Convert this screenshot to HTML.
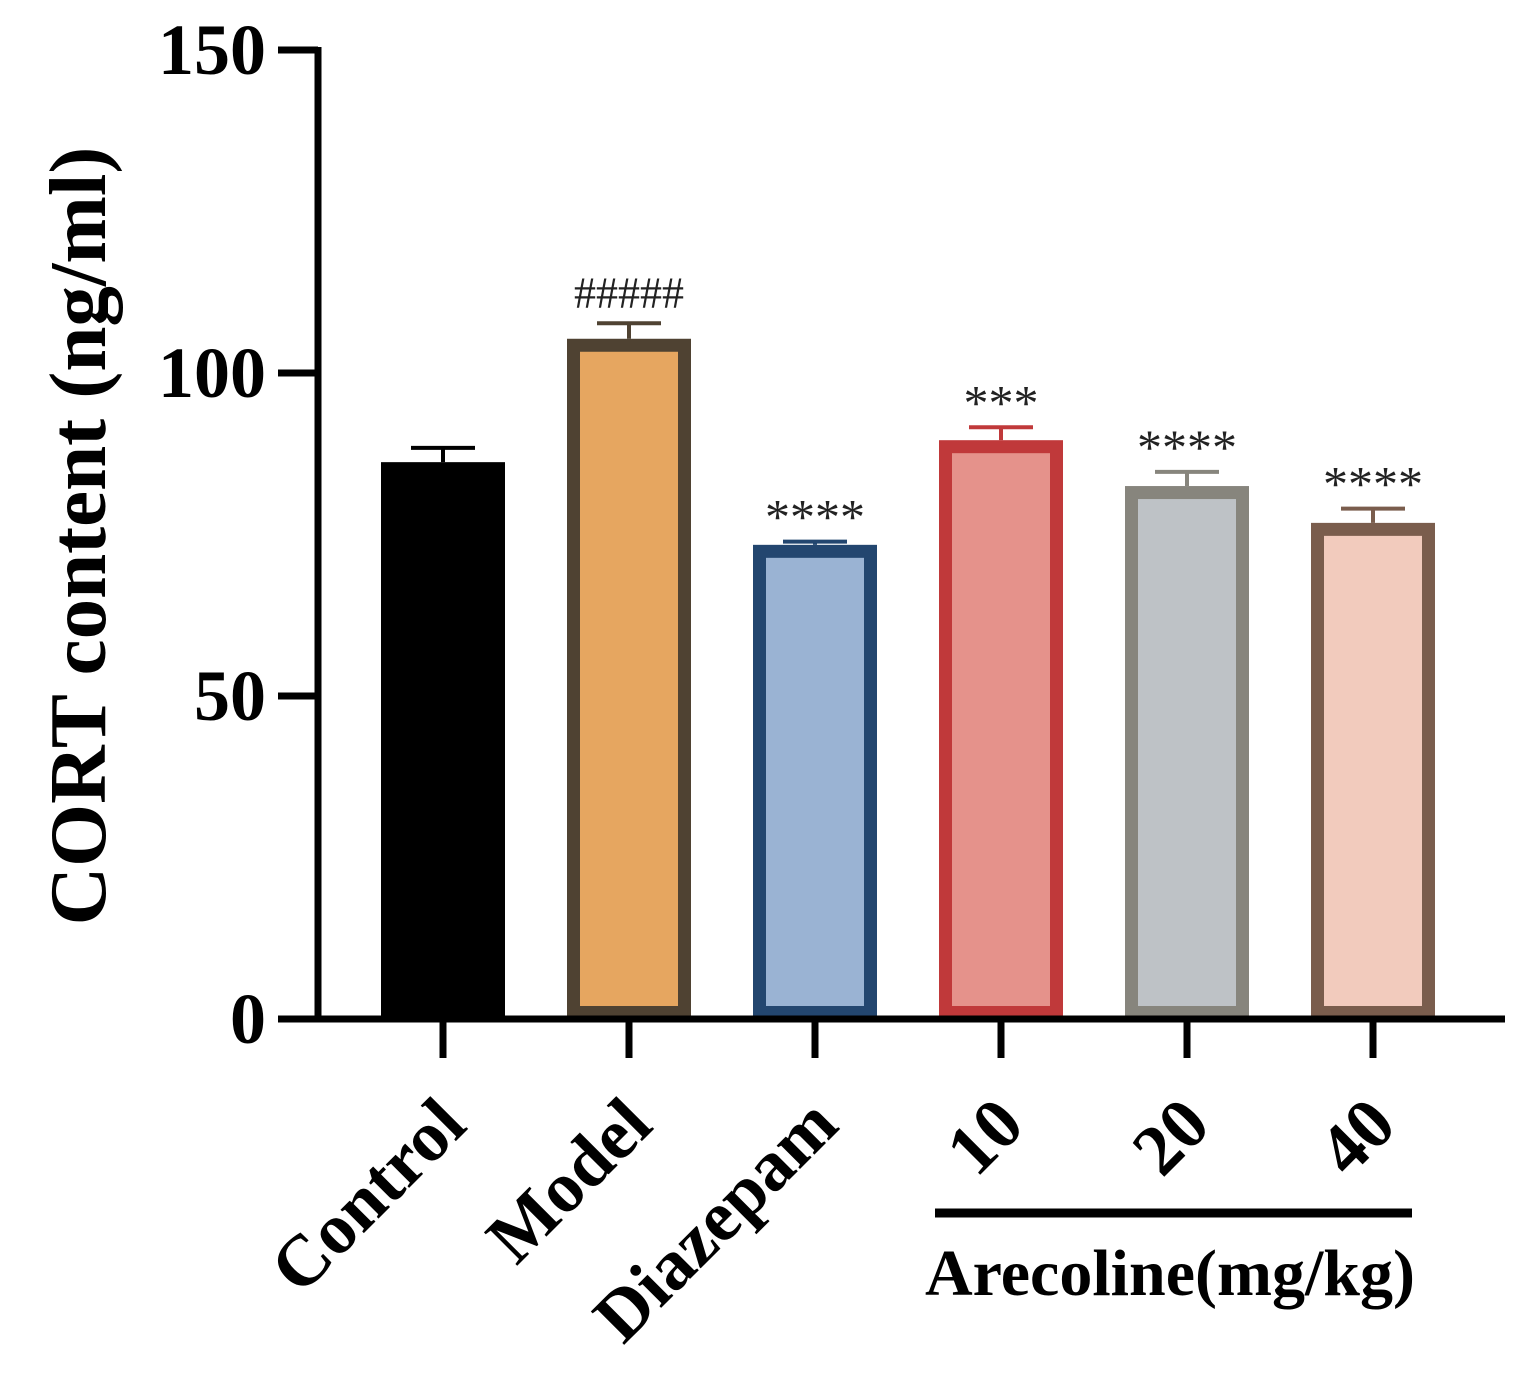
<!DOCTYPE html>
<html><head><meta charset="utf-8"><style>
html,body{margin:0;padding:0;background:#fff}
svg{display:block;font-family:"Liberation Serif",serif;font-weight:bold}
</style></head><body>
<svg id="chart" width="1539" height="1377" viewBox="0 0 1539 1377">
<g id="bars"></g>
<g id="axes"></g>
<text transform="translate(105,536) rotate(-90)" text-anchor="middle" font-size="81">CORT content (ng/ml)</text>
<line x1="935" y1="1213" x2="1412" y2="1213" stroke="#000" stroke-width="9"/>
<text x="1170" y="1295" text-anchor="middle" font-size="66">Arecoline(mg/kg)</text>
</svg>
<script>
const categories=["Control","Model","Diazepam","10","20","40"];
const means=[86.2,105.3,73.4,89.6,82.5,76.8];
const errors=[2.2,2.4,0.5,2.0,2.2,2.2];
const sigLabels=["","#####","****","***","****","****"];
const yTicks=[0,50,100,150];
const fills=["#000000","#e6a660","#9ab3d3","#e5928b","#bec2c6","#f2cbbd"];
const strokes=["#000000","#4f4232","#23466f","#c0393a","#87857d","#7a5d4d"];

const X0=318,Y0=1019,YTOP=50,VMAX=150;
function y(v){return Y0-(v/VMAX)*(Y0-YTOP);}
function xc(i){return 443+i*186;}
const BW=124,NS="http://www.w3.org/2000/svg";
function mk(tag,attrs,parent){const e=document.createElementNS(NS,tag);for(const k in attrs)e.setAttribute(k,attrs[k]);parent.appendChild(e);return e;}
const bars=document.getElementById('bars'),axes=document.getElementById('axes');
categories.forEach((c,i)=>{
  const cx=xc(i),top=y(means[i]),sw=i===0?0:13;
  const et=y(means[i]+errors[i]);
  const eb=mk('line',{x1:cx,y1:top,x2:cx,y2:et,stroke:strokes[i],'stroke-width':4},bars);
  
  
  const cap=mk('line',{x1:cx-32,y1:et,x2:cx+32,y2:et,stroke:strokes[i],'stroke-width':4},bars);
  
  
  const r=mk('rect',{x:cx-BW/2+sw/2,y:top+sw/2,width:BW-sw,height:Y0-top-sw,fill:fills[i],stroke:strokes[i],'stroke-width':sw},bars);
  
  
  if(sigLabels[i]){
    const t=mk('text',{x:cx,y:et-(i===1?16:8),'text-anchor':'middle','font-size':i===1?44:50,'font-weight':'normal',fill:'#222'},bars);
    t.textContent=sigLabels[i];
    
    
  }
  const tk=mk('line',{x1:cx,y1:Y0,x2:cx,y2:1058,stroke:'#000','stroke-width':7},axes);
  
  
  const lab=mk('text',{transform:'translate('+(cx+26)+',1128) rotate(-45)','text-anchor':'end','font-size':72},axes);
  lab.textContent=c;
  
  
});
const ya=mk('line',{x1:X0,y1:YTOP-3,x2:X0,y2:Y0+3,stroke:'#000','stroke-width':7},axes);


const xa=mk('line',{x1:278,y1:Y0,x2:1505,y2:Y0,stroke:'#000','stroke-width':7},axes);


yTicks.forEach(v=>{
  if(v>0){const t=mk('line',{x1:278,y1:y(v),x2:X0,y2:y(v),stroke:'#000','stroke-width':7},axes);
  
  }
  const l=mk('text',{x:266,y:y(v)+24,'text-anchor':'end','font-size':72},axes);
  l.textContent=v;
  
  
});
</script>
</body></html>
